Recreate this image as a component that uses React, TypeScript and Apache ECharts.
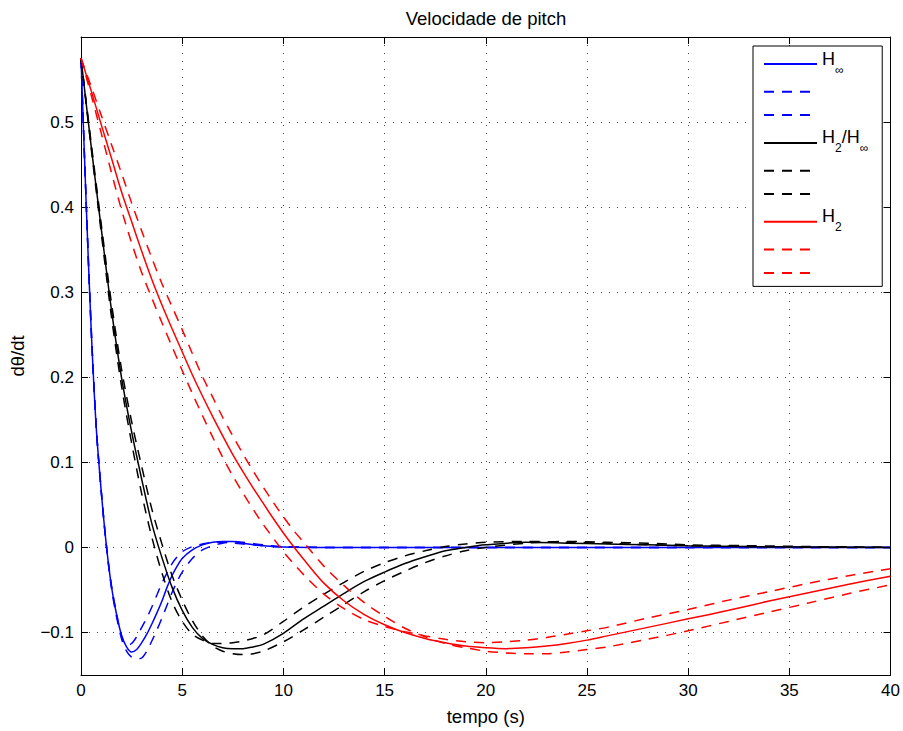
import React, { useEffect, useRef } from "react";
import * as echarts from "echarts";

const FONT = '"Liberation Sans", Arial, Helvetica, sans-serif';

// x-axis ticks and y-axis ticks
const xTicks = [0, 5, 10, 15, 20, 25, 30, 35, 40];
const yTicks = [-0.1, 0, 0.1, 0.2, 0.3, 0.4, 0.5];

// H-infinity family (blue)
const tHinf = [0, 0.25, 0.5, 0.75, 1, 1.25, 1.5, 1.75, 2, 2.25, 2.5, 2.75, 3, 3.25, 3.5, 3.75, 4, 4.25, 4.5, 4.75, 5, 5.5, 6, 6.5, 7, 7.5, 8, 9, 10, 12, 15, 20, 25, 30, 35, 40];
const hinfNominal = [0.575, 0.408, 0.258, 0.142, 0.066, 0.003, -0.045, -0.078, -0.103, -0.117, -0.123, -0.12, -0.112, -0.102, -0.09, -0.077, -0.063, -0.047, -0.033, -0.022, -0.013, -0.003, 0.003, 0.006, 0.007, 0.007, 0.005, 0.002, 0.0005, 0, 0, 0, 0, 0, 0, 0];
const hinfLow = [0.575, 0.408, 0.258, 0.142, 0.066, 0.003, -0.044, -0.077, -0.104, -0.115, -0.113, -0.105, -0.094, -0.083, -0.07, -0.056, -0.042, -0.03, -0.019, -0.011, -0.005, 0.001, 0.004, 0.006, 0.006, 0.005, 0.004, 0.002, 0.0005, 0, 0, 0, 0, 0, 0, 0];
const hinfHigh = [0.575, 0.41, 0.26, 0.143, 0.066, 0.003, -0.047, -0.081, -0.107, -0.122, -0.129, -0.131, -0.13, -0.122, -0.11, -0.097, -0.083, -0.068, -0.053, -0.04, -0.029, -0.013, -0.003, 0.002, 0.005, 0.007, 0.006, 0.003, 0.001, 0, 0, 0, 0, 0, 0, 0];

// H2/H-infinity family (black)
const tMixed = [0, 0.5, 1, 1.5, 2, 2.5, 3, 3.5, 4, 4.5, 5, 5.5, 6, 6.5, 7, 7.5, 8, 8.5, 9, 10, 11, 12, 13, 14, 15, 16, 17, 18, 19, 20, 22, 24, 26, 28, 30, 33, 36, 40];
const mixedNominal = [0.575, 0.472, 0.375, 0.28, 0.2, 0.136, 0.08, 0.028, -0.012, -0.047, -0.074, -0.094, -0.107, -0.114, -0.118, -0.119, -0.119, -0.117, -0.114, -0.101, -0.084, -0.069, -0.054, -0.04, -0.029, -0.019, -0.011, -0.004, 0.0, 0.003, 0.006, 0.005, 0.004, 0.003, 0.002, 0.001, 0.0005, 0];
const mixedLow = [0.575, 0.47, 0.37, 0.272, 0.19, 0.123, 0.063, 0.012, -0.03, -0.064, -0.087, -0.102, -0.109, -0.113, -0.113, -0.112, -0.11, -0.107, -0.103, -0.087, -0.07, -0.055, -0.041, -0.028, -0.018, -0.01, -0.004, 0.001, 0.004, 0.006, 0.007, 0.006, 0.005, 0.003, 0.002, 0.001, 0.0005, 0];
const mixedHigh = [0.575, 0.476, 0.38, 0.288, 0.21, 0.148, 0.095, 0.045, 0.004, -0.033, -0.062, -0.086, -0.104, -0.116, -0.122, -0.125, -0.126, -0.125, -0.122, -0.111, -0.097, -0.082, -0.067, -0.052, -0.039, -0.028, -0.018, -0.01, -0.004, 0.0, 0.005, 0.007, 0.006, 0.005, 0.003, 0.002, 0.001, 0];

// H2 family (red)
const tH2 = [0, 0.5, 1, 1.5, 2, 2.5, 3, 3.5, 4, 4.5, 5, 5.5, 6, 6.5, 7, 7.5, 8, 8.5, 9, 9.5, 10, 10.5, 11, 12, 13, 14, 15, 16, 17, 18, 19, 20, 21, 22, 23, 24, 25, 26, 28, 30, 32, 34, 36, 38, 40];
const h2Nominal = [0.575, 0.537, 0.497, 0.458, 0.418, 0.383, 0.348, 0.315, 0.285, 0.257, 0.23, 0.203, 0.178, 0.154, 0.131, 0.109, 0.089, 0.07, 0.052, 0.034, 0.017, 0.001, -0.014, -0.042, -0.063, -0.079, -0.091, -0.1, -0.107, -0.112, -0.116, -0.118, -0.119, -0.118, -0.116, -0.113, -0.109, -0.104, -0.094, -0.084, -0.074, -0.063, -0.053, -0.043, -0.034];
const h2Low = [0.575, 0.532, 0.487, 0.441, 0.397, 0.358, 0.323, 0.293, 0.264, 0.236, 0.208, 0.181, 0.155, 0.13, 0.106, 0.084, 0.064, 0.045, 0.027, 0.011, -0.005, -0.019, -0.032, -0.055, -0.072, -0.085, -0.093, -0.099, -0.104, -0.108, -0.111, -0.112, -0.111, -0.109, -0.106, -0.102, -0.098, -0.094, -0.083, -0.073, -0.062, -0.052, -0.042, -0.033, -0.025];
const h2High = [0.575, 0.542, 0.508, 0.474, 0.44, 0.405, 0.372, 0.34, 0.31, 0.283, 0.256, 0.228, 0.201, 0.177, 0.153, 0.131, 0.11, 0.09, 0.071, 0.053, 0.036, 0.02, 0.006, -0.022, -0.045, -0.065, -0.081, -0.095, -0.105, -0.113, -0.118, -0.122, -0.124, -0.125, -0.125, -0.123, -0.12, -0.117, -0.108, -0.098, -0.087, -0.076, -0.065, -0.054, -0.044];

const legendLabels: Record<string, string> = {
  "H∞": "{m|H}{s|∞}",
  "H2/H∞": "{m|H}{s|2}{m|/H}{s|∞}",
  "H2": "{m|H}{s|2}",
};

const DASH = [10, 8];

export default function App() {
  const ref = useRef<HTMLDivElement>(null);
  useEffect(() => {
    if (!ref.current) return;
    const chart = echarts.init(ref.current, undefined, { renderer: "svg" });

    const mk = (name: string, t: number[], v: number[], color: string, dashed: boolean) => ({
      name,
      type: "line",
      data: t.map((x, i) => [x, v[i]]),
      showSymbol: false,
      symbol: "none",
      smooth: 0.3,
      silent: true,
      lineStyle: { color, width: 1.5, type: dashed ? DASH : "solid" },
      itemStyle: { color },
    });

    const series = [
      mk("H∞", tHinf, hinfNominal, "#0000ff", false),
      mk("H∞ low", tHinf, hinfLow, "#0000ff", true),
      mk("H∞ high", tHinf, hinfHigh, "#0000ff", true),
      mk("H2/H∞", tMixed, mixedNominal, "#000000", false),
      mk("H2/H∞ low", tMixed, mixedLow, "#000000", true),
      mk("H2/H∞ high", tMixed, mixedHigh, "#000000", true),
      mk("H2", tH2, h2Nominal, "#ff0000", false),
      mk("H2 low", tH2, h2Low, "#ff0000", true),
      mk("H2 high", tH2, h2High, "#ff0000", true),
    ];

    const axisLine = { show: true, onZero: false, lineStyle: { color: "#000", width: 1 } };
    const gridLine = { show: true, lineStyle: { color: "#444", width: 1, type: [1, 7] } };
    const fmtY = (v: number) => (v < 0 ? "\u2212" + String(Math.abs(v)) : String(v));

    chart.setOption({
      animation: false,
      backgroundColor: "#fff",
      grid: { left: 81, top: 37, right: 12, bottom: 55, containLabel: false },
      graphic: [
        {
          type: "text",
          x: 486,
          y: 18,
          style: {
            text: "Velocidade de pitch",
            fontSize: 18.5,
            fontFamily: FONT,
            fill: "#000",
            align: "center",
            verticalAlign: "middle",
          },
        },
      ],
      legend: {
        orient: "vertical",
        left: 753,
        top: 46,
        selectedMode: false,
        backgroundColor: "#fff",
        borderColor: "#000",
        borderWidth: 1,
        borderRadius: 0,
        padding: [3, 14, 3, 10],
        itemGap: 2.3,
        itemWidth: 53,
        itemHeight: 14,
        itemStyle: { opacity: 0 },
        data: series.map((s) => s.name),
        formatter: (name: string) => legendLabels[name] ?? " ",
        textStyle: {
          fontFamily: FONT,
          fontSize: 18,
          lineHeight: 21,
          color: "#000",
          rich: {
            m: { fontFamily: FONT, fontSize: 18, lineHeight: 30, verticalAlign: "middle", padding: [0, 0, 11, 0], color: "#000" },
            s: { fontFamily: FONT, fontSize: 12, lineHeight: 30, verticalAlign: "middle", padding: [11, 0, 0, 0], color: "#000" },
          },
        },
      },
      xAxis: [
        {
          type: "value",
          min: 0,
          max: 40,
          interval: 5,
          position: "bottom",
          axisLine,
          axisTick: { show: true, inside: true, length: 7, lineStyle: { color: "#000" } },
          axisLabel: { color: "#000", fontSize: 17, fontFamily: FONT, margin: 7 },
          splitLine: gridLine,
          name: "tempo (s)",
          nameLocation: "middle",
          nameGap: 32,
          nameTextStyle: { color: "#000", fontSize: 18.5, fontFamily: FONT },
        },
        {
          type: "value",
          min: 0,
          max: 40,
          interval: 5,
          position: "top",
          axisLine,
          axisTick: { show: true, inside: true, length: 7, lineStyle: { color: "#000" } },
          axisLabel: { show: false },
          splitLine: { show: false },
        },
      ],
      yAxis: [
        {
          type: "value",
          min: -0.15,
          max: 0.6,
          position: "left",
          axisLine,
          axisTick: { show: true, inside: true, length: 7, lineStyle: { color: "#000" }, customValues: yTicks },
          axisLabel: { color: "#000", fontSize: 17, fontFamily: FONT, margin: 7, customValues: yTicks, formatter: fmtY },
          splitLine: gridLine,
          name: "d\u03b8/dt",
          nameLocation: "middle",
          nameGap: 54,
          nameTextStyle: { color: "#000", fontSize: 18.5, fontFamily: FONT },
        },
        {
          type: "value",
          min: -0.15,
          max: 0.6,
          position: "right",
          axisLine,
          axisTick: { show: true, inside: true, length: 7, lineStyle: { color: "#000" }, customValues: yTicks },
          axisLabel: { show: false },
          splitLine: { show: false },
        },
      ],
      series,
    });

    return () => chart.dispose();
  }, []);

  return <div ref={ref} style={{ position: "fixed", left: 0, top: 0, width: 903, height: 731 }} />;
}
